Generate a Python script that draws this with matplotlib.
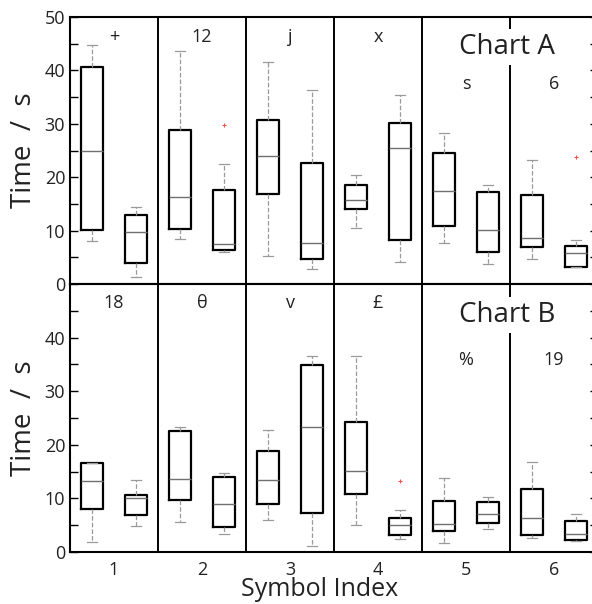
import matplotlib
matplotlib.use("Agg")
import matplotlib.pyplot as plt
from matplotlib.ticker import MultipleLocator

plt.rcParams['font.family'] = ['Open Sans', 'DejaVu Sans']

positions = [1, 2, 3, 4, 5, 6]
xtick_labels = ['1', '2', '3', '4', '5', '6']

# Chart A: two boxes per symbol index (low whisker, Q1, median, Q3, high whisker)
a_symbols = ['+', '12', 'j', 'x', 's', '6']
a_whislo = [8.0, 1.3, 8.5, 5.9, 5.2, 2.9, 10.5, 4.1, 7.7, 3.7, 4.7, 3.1]
a_q1 = [10.2, 3.9, 10.3, 6.4, 16.8, 4.7, 14.0, 8.2, 10.9, 5.9, 6.9, 3.1]
a_med = [25.0, 9.7, 16.3, 7.5, 23.9, 7.7, 15.7, 25.5, 17.4, 10.1, 8.6, 5.8]
a_q3 = [40.6, 13.0, 28.8, 17.6, 30.7, 22.6, 18.5, 30.2, 24.6, 17.2, 16.6, 7.2]
a_whishi = [44.7, 14.5, 43.7, 22.5, 41.5, 36.4, 20.4, 35.3, 28.2, 18.6, 23.2, 8.3]
a_fliers = [[], [], [], [29.7], [], [], [], [], [], [], [], [23.8]]

# Chart B
b_symbols = ['18', '\u03b8', 'v', '\u00a3', '%', '19']
b_whislo = [1.9, 4.8, 5.6, 3.4, 5.9, 1.2, 5.0, 2.4, 1.7, 4.3, 2.6, 2.1]
b_q1 = [8.1, 6.9, 9.7, 4.7, 8.9, 7.2, 10.8, 3.2, 4.0, 5.5, 3.2, 2.3]
b_med = [13.3, 10.1, 13.7, 8.9, 13.4, 23.4, 15.1, 5.0, 5.3, 7.0, 6.4, 3.4]
b_q3 = [16.6, 10.6, 22.6, 13.9, 18.9, 34.9, 24.3, 6.4, 9.6, 9.4, 11.7, 5.8]
b_whishi = [16.6, 13.5, 23.4, 14.7, 22.7, 36.5, 36.6, 7.8, 13.8, 10.3, 16.8, 7.0]
b_fliers = [[], [], [], [], [], [], [], [13.3], [], [], [], []]

offset = 0.25
box_pos = [p + d for p in positions for d in (-offset, offset)]


def make_stats(whislo, q1, med, q3, whishi, fliers):
    return [dict(whislo=whislo[i], q1=q1[i], med=med[i], q3=q3[i],
                 whishi=whishi[i], fliers=fliers[i])
            for i in range(len(med))]


fig = plt.figure(figsize=(5.92, 6.04), dpi=100)
ax_top = fig.add_axes([70 / 592, 1 - 284 / 604, 528 / 592, 267 / 604])
ax_bot = fig.add_axes([70 / 592, 1 - 552 / 604, 528 / 592, 268 / 604])

panels = [
    (ax_top, make_stats(a_whislo, a_q1, a_med, a_q3, a_whishi, a_fliers),
     a_symbols, 'Chart A', 44.4, 46.2, 37.5, range(0, 51, 10)),
    (ax_bot, make_stats(b_whislo, b_q1, b_med, b_q3, b_whishi, b_fliers),
     b_symbols, 'Chart B', 44.2, 46.4, 35.8, range(0, 41, 10)),
]

for ax, stats, symbols, title, title_y, sym_y, sym_y2, yt in panels:
    ax.bxp(stats, positions=box_pos, widths=0.24, patch_artist=False,
           boxprops=dict(color='black', linewidth=1.6),
           medianprops=dict(color='#707070', linewidth=1.0),
           whiskerprops=dict(color='#9a9a9a', linewidth=0.9, linestyle='--'),
           capprops=dict(color='#9a9a9a', linewidth=0.9),
           flierprops=dict(marker='+', markersize=3, markeredgecolor='#ff5050',
                           markeredgewidth=0.8),
           capwidths=0.12)
    ax.set_xlim(0.5, 6.5)
    ax.set_ylim(0, 50)
    for xs in [1.5, 2.5, 3.5, 4.5, 5.5]:
        ax.axvline(xs, color='black', linewidth=1.4, zorder=1)
    for i, s in enumerate(symbols):
        ax.text(positions[i], sym_y if i < 4 else sym_y2, s, ha='center',
                va='center', fontsize=13, color='#222222')
    ax.text(5.47, title_y, title, ha='center', va='center', fontsize=20,
            color='#222222', zorder=5,
            bbox=dict(facecolor='white', edgecolor='none', pad=3))
    ax.set_yticks(list(yt))
    ax.yaxis.set_minor_locator(MultipleLocator(5))
    ax.tick_params(axis='y', which='both', direction='in', length=6,
                   right=True, labelsize=13, labelcolor='#222222', width=1)
    ax.set_ylabel('Time  /  s', fontsize=20, color='#222222', labelpad=5)
    for sp in ax.spines.values():
        sp.set_linewidth(1.5)

ax_top.tick_params(axis='x', which='both', bottom=False, labelbottom=False)
ax_bot.set_xticks(positions)
ax_bot.set_xticklabels(xtick_labels)
ax_bot.tick_params(axis='x', which='both', bottom=False, labelsize=13,
                   labelcolor='#222222', pad=3)
fig.text(320 / 592, 1 - 590 / 604, 'Symbol Index', ha='center', va='center',
         fontsize=18, color='#222222')

plt.savefig('out.png', dpi=100)
